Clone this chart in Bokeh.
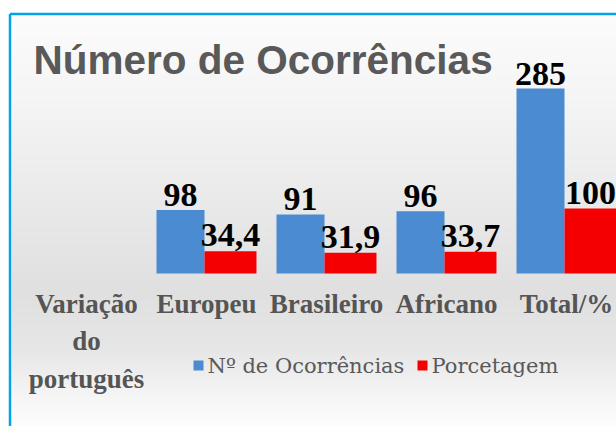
import numpy as np
from bokeh.plotting import figure
from bokeh.models import Range1d, ColumnDataSource, Label
from bokeh.transform import dodge
from bokeh.core.properties import value
from bokeh.embed import file_html
from bokeh.resources import INLINE

# ---- data ----
categories = ["Variação\ndo\nportuguês", "Europeu", "Brasileiro", "Africano", "Total/%"]
bar_categories = ["Europeu", "Brasileiro", "Africano", "Total/%"]
ocorrencias = [98, 91, 96, 285]
porcentagem = [34.4, 31.9, 33.7, 100]
series_names = ["Nº de Ocorrências", "Porcetagem"]
series_colors = ["#4a8bd1", "#f50000"]
title_text = "Número de Ocorrências"

# ---- layout (pixel mapping) ----
W, H = 616, 426
PX_PER_CAT = 120.0
CAT0_PX = 86.0
BASE_PX = 273.0
PX_PER_UNIT = 0.649

X0 = -CAT0_PX / PX_PER_CAT
X1 = X0 + W / PX_PER_CAT
Y1 = BASE_PX / PX_PER_UNIT
Y0 = Y1 - H / PX_PER_UNIT


def px2x(px):
    return X0 + px / PX_PER_CAT


def py2y(py):
    return Y1 - py / PX_PER_UNIT


def fmt(v):
    if float(v).is_integer():
        return str(int(v))
    return f"{v:.1f}".replace(".", ",")


p = figure(width=W, height=H, x_range=Range1d(X0, X1), y_range=Range1d(Y0, Y1),
           output_backend="svg", toolbar_location=None,
           x_axis_location=None, y_axis_location=None, min_border=0,
           outline_line_color=None, background_fill_color="white",
           border_fill_color="white")
p.xgrid.visible = False
p.ygrid.visible = False

# ---- background gradient (decoration) ----
top_py, bot_py = 12, 426
n = bot_py - top_py
rows_py = np.arange(bot_py - 1, top_py - 1, -1) + 0.5  # bottom row first
g = np.interp(rows_py, [12, 100, 200, 290, 350, 400, 426],
              [252, 245, 234, 224, 231, 247, 253]).astype(np.uint8)
img = np.empty((n, 2), dtype=np.uint32)
view = img.view(dtype=np.uint8).reshape((n, 2, 4))
view[:, :, 0] = g[:, None]
view[:, :, 1] = g[:, None]
view[:, :, 2] = g[:, None]
view[:, :, 3] = 255
p.image_rgba(image=[img], x=px2x(11), y=py2y(bot_py), dw=X1 - px2x(11),
             dh=(bot_py - top_py) / PX_PER_UNIT)

# ---- frame border (decoration) ----
bx = px2x(9.5)
by = py2y(13.5)
p.segment(x0=[bx, bx], y0=[by, by], x1=[bx, X1], y1=[Y0, by],
          line_color="#00a2e8", line_width=2.5)

# ---- bars ----
xs = [categories.index(c) for c in bar_categories]
src = ColumnDataSource(dict(
    x=xs, oc=ocorrencias, pc=porcentagem,
    oc_lbl=[fmt(v) for v in ocorrencias],
    pc_lbl=[fmt(v) for v in porcentagem],
))
blue_off, red_off = -0.2167, 0.2
p.vbar(x=dodge("x", blue_off), top="oc", bottom=0, width=0.40,
       source=src, fill_color=series_colors[0], line_color=None)
p.vbar(x=dodge("x", red_off), top="pc", bottom=0, width=0.433,
       source=src, fill_color=series_colors[1], line_color=None)

lbl_style = dict(text_font=value("Liberation Serif"), text_font_style="bold",
                 text_font_size="34px", text_color="black",
                 text_align="center", text_baseline="middle")
p.text(x=dodge("x", blue_off), y="oc", text="oc_lbl", y_offset=-15, source=src, **lbl_style)
p.text(x=dodge("x", red_off), y="pc", text="pc_lbl", y_offset=-16, source=src, **lbl_style)

# ---- category labels ----
cat_src = ColumnDataSource(dict(x=list(range(len(categories))),
                                y=[py2y(288)] * len(categories),
                                t=categories))
p.text(x="x", y="y", text="t", source=cat_src,
       text_font=value("Liberation Serif"), text_font_style="bold",
       text_font_size="27px", text_color="#555555",
       text_align="center", text_baseline="top", text_line_height=1.25)

# ---- title ----
p.add_layout(Label(x=px2x(33), y=py2y(59), text=title_text,
                   text_font="Liberation Sans", text_font_style="bold",
                   text_font_size="40.5px", text_color="#595959",
                   text_baseline="middle"))

# ---- legend (drawn with glyphs) ----
leg_src = ColumnDataSource(dict(
    sx=[px2x(198), px2x(422)],
    tx=[px2x(207), px2x(431)],
    y=[py2y(365), py2y(365)],
    name=series_names, color=series_colors,
))
p.scatter(x="sx", y="y", marker="square", size=10, fill_color="color",
          line_color=None, source=leg_src)
p.text(x="tx", y="y", text="name", source=leg_src,
       text_font=value("DejaVu Serif"), text_font_size="21px",
       text_color="#595959", text_align="left", text_baseline="middle")

open("out.html", "w").write(file_html(p, INLINE))
